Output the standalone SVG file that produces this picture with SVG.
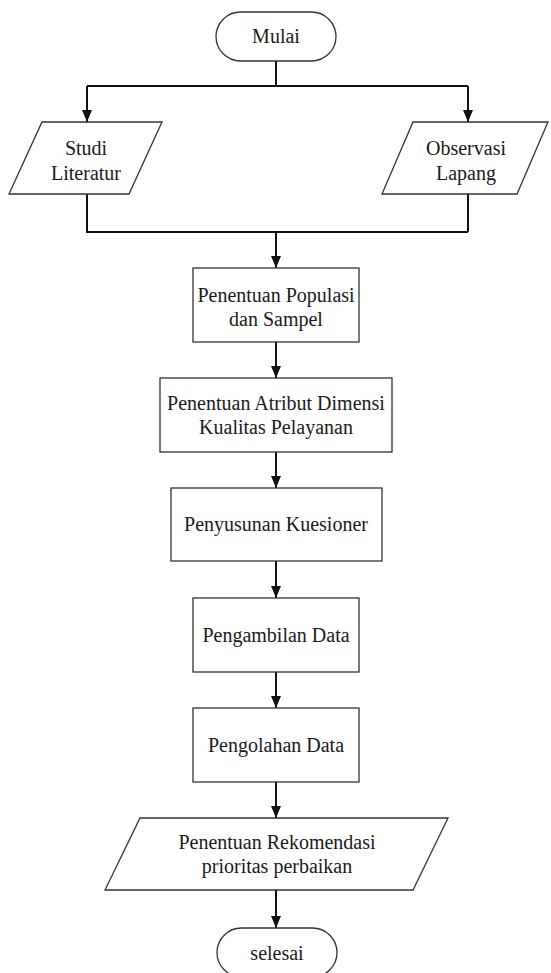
<svg xmlns="http://www.w3.org/2000/svg" width="551" height="973" viewBox="0 0 551 973">
<style>
.node{fill:#fff;stroke:#333;stroke-width:1.3}
.lbl{font-size:20px;fill:#1a1a1a;text-anchor:middle}
.conn{fill:none;stroke:#111;stroke-width:2}
</style>
<defs>
<marker id="arr" viewBox="0 0 12 10" markerUnits="userSpaceOnUse" markerWidth="12" markerHeight="10" refX="12" refY="5" orient="auto">
<path d="M0,0 L12,5 L0,10 z" fill="#111"/>
</marker>
</defs>
<rect width="551" height="973" fill="#fff"/>
<g id="connectors">
<path class="conn" d="M276,61 V86 M87,86 H468"/>
<path class="conn" d="M87,86 V122" marker-end="url(#arr)"/>
<path class="conn" d="M468,86 V122" marker-end="url(#arr)"/>
<path class="conn" d="M87,194 V232 H468 M468,194 V232"/>
<path class="conn" d="M276,232 V268" marker-end="url(#arr)"/>
<path class="conn" d="M276,342 V378" marker-end="url(#arr)"/>
<path class="conn" d="M276,452 V488" marker-end="url(#arr)"/>
<path class="conn" d="M276,561 V598" marker-end="url(#arr)"/>
<path class="conn" d="M276,672 V708" marker-end="url(#arr)"/>
<path class="conn" d="M276,782 V818" marker-end="url(#arr)"/>
<path class="conn" d="M276,890 V928" marker-end="url(#arr)"/>
</g>
<g font-family="'Liberation Serif', 'Times New Roman', 'DejaVu Serif', serif">
<g id="mulai">
<rect class="node" x="216" y="12" width="120" height="49" rx="24.5"/>
<text class="lbl" x="276" y="43">Mulai</text>
</g>
<g id="studi-literatur">
<polygon class="node" points="42,122 162,122 129,194 9,194"/>
<text class="lbl" x="86" y="155">Studi</text>
<text class="lbl" x="86" y="180">Literatur</text>
</g>
<g id="observasi-lapang">
<polygon class="node" points="413,122 548,122 517,194 382,194"/>
<text class="lbl" x="466" y="155">Observasi</text>
<text class="lbl" x="466" y="180">Lapang</text>
</g>
<g id="populasi">
<rect class="node" x="193" y="268" width="166" height="74"/>
<text class="lbl" x="276" y="302">Penentuan Populasi</text>
<text class="lbl" x="276" y="326">dan Sampel</text>
</g>
<g id="atribut">
<rect class="node" x="160" y="378" width="232" height="74"/>
<text class="lbl" x="276" y="410">Penentuan Atribut Dimensi</text>
<text class="lbl" x="276" y="434">Kualitas Pelayanan</text>
</g>
<g id="kuesioner">
<rect class="node" x="171" y="488" width="211" height="73"/>
<text class="lbl" x="276" y="531">Penyusunan Kuesioner</text>
</g>
<g id="pengambilan">
<rect class="node" x="193" y="598" width="166" height="74"/>
<text class="lbl" x="276" y="642">Pengambilan Data</text>
</g>
<g id="pengolahan">
<rect class="node" x="193" y="708" width="166" height="74"/>
<text class="lbl" x="276" y="752">Pengolahan Data</text>
</g>
<g id="rekomendasi">
<polygon class="node" points="140,818 448,818 413,890 105,890"/>
<text class="lbl" x="277" y="849">Penentuan Rekomendasi</text>
<text class="lbl" x="277" y="873">prioritas perbaikan</text>
</g>
<g id="selesai">
<rect class="node" x="217" y="928" width="120" height="49" rx="24.5"/>
<text class="lbl" x="277" y="960">selesai</text>
</g>
</g>
</svg>
